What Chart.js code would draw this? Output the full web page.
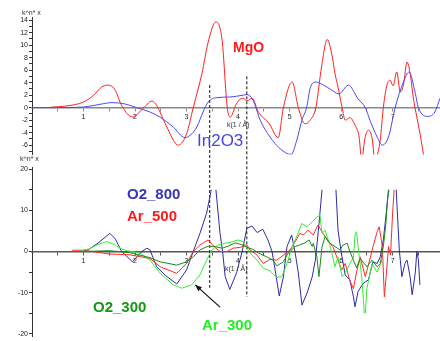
<!DOCTYPE html>
<html lang="en">
<head>
  <meta charset="UTF-8" />
  <title>EXAFS k-space</title>
  <script src="https://cdn.jsdelivr.net/npm/chart.js"></script>
  <style>
    body { margin: 0; background: #fff; }
    #wrap { position: relative; width: 440px; height: 341px; overflow: hidden; font-family: 'Liberation Sans', Arial, sans-serif; }
    canvas { position: absolute; left: 0; top: 0; }
    .lbl { position: absolute; line-height: 1; white-space: nowrap; }
    .small { font-size: 7px; color: #333; }
  </style>
</head>
<body>
  <div id="wrap">
    <canvas id="chartTop" width="440" height="341"></canvas>
    <canvas id="chartBot" width="440" height="341"></canvas>

    <div class="lbl small" style="left:22px;top:9px;">k^n* x</div>
    <div class="lbl small" style="left:20px;top:155px;">k^n* x</div>
    <div class="lbl small" style="left:227px;top:121px;">k(1 / Å)</div>
    <div class="lbl small" style="left:225px;top:265px;">k(1 / Å)</div>

    <div class="lbl" style="left:233px;top:40px;font-size:14px;font-weight:bold;color:#ff1a1a;">MgO</div>
    <div class="lbl" style="left:197px;top:132px;font-size:17px;color:#4646dc;">In2O3</div>
    <div class="lbl" style="left:127px;top:186px;font-size:15px;font-weight:bold;color:#3535b5;">O2_800</div>
    <div class="lbl" style="left:127px;top:208px;font-size:15px;font-weight:bold;color:#ff1a1a;">Ar_500</div>
    <div class="lbl" style="left:93px;top:299px;font-size:15px;font-weight:bold;color:#129912;">O2_300</div>
    <div class="lbl" style="left:202px;top:317px;font-size:15px;font-weight:bold;color:#22ee22;">Ar_300</div>
  </div>

  <script>
    // ---- data (k in 1/Å, value k^n*chi) ----
    const xTicks = [0.5, 1, 1.5, 2, 2.5, 3, 3.5, 4, 4.5, 5, 5.5, 6, 6.5, 7, 7.5];
    const yTopTicks = [-7, -6, -5, -4, -3, -2, -1, 0, 1, 2, 3, 4, 5, 6, 7, 8, 9, 10, 11, 12, 13, 14];
    const yBotTicks = [-20, -15, -10, -5, 0, 5, 10, 15, 20];

    // top panel
    const mgoK = [0.35, 0.7, 1.0, 1.2, 1.35, 1.47, 1.6, 1.75, 1.95, 2.15, 2.33, 2.43, 2.6, 2.84, 3.0, 3.13, 3.3, 3.42, 3.57, 3.69, 3.79, 3.85, 3.95, 4.02, 4.1, 4.17, 4.27, 4.4, 4.6, 4.78, 4.88, 5.05, 5.17, 5.3, 5.4, 5.51, 5.62, 5.73, 5.83, 5.88, 5.94, 6.02, 6.08, 6.17, 6.27, 6.35, 6.4, 6.46, 6.53, 6.6, 6.66, 6.72, 6.76, 6.82, 6.89, 6.95, 7.01, 7.08, 7.15, 7.21, 7.28, 7.34, 7.4, 7.47, 7.53, 7.62];
    const mgoV = [0.05, 0.3, 0.9, 2.0, 3.3, 3.6, 3.0, 0.2, -1.5, -0.2, 1.05, 0.2, -2.8, -6.0, -4.2, 0, 5.5, 10.5, 13.7, 10.8, 0, -1.5, 0.3, 1.2, 1.5, 1.1, 1.5, -0.8, -2.5, -4.8, 0, 4.1, 0, -2.6, -2.0, 0, 6.5, 10.9, 8.1, 5.5, 3.3, 0, -2.0, -1.6, -2.8, -4.7, -8.5, -5.0, -3.6, -4.8, -8.5, -7.0, -5.2, 0, 3.6, 4.4, 3.5, 5.7, 2.5, 3.6, 7.3, 5.5, 1.7, -1.5, -4.1, -8.5];

    const inoK = [0, 0.5, 1.0, 1.3, 1.55, 1.8, 2.03, 2.29, 2.48, 2.74, 2.97, 3.1, 3.2, 3.32, 3.42, 3.59, 3.84, 4.1, 4.17, 4.29, 4.43, 4.62, 4.82, 5.03, 5.14, 5.24, 5.33, 5.4, 5.5, 5.66, 5.8, 5.96, 6.14, 6.33, 6.47, 6.56, 6.7, 6.8, 6.92, 7.05, 7.21, 7.32, 7.44, 7.5, 7.69, 7.82, 7.92];
    const inoV = [0, 0, 0.1, 0.5, 0.8, 0.6, 0, -0.7, -1.5, -3.1, -4.8, -4.2, -3.1, -0.7, 0.9, 1.6, 1.7, 2.0, 2.1, 1.2, -2.0, -4.7, -6.6, -7.5, -5.2, -2.0, 0, 3.1, 4.1, 3.6, 2.9, 2.2, 3.6, 1.4, 0, -2.0, -4.7, -6.0, -4.7, 0, 4.1, 5.7, 2.3, 0, -1.4, -0.7, 1.5];

    // bottom panel
    const o800K = [0, 0.9, 1.1, 1.3, 1.51, 1.62, 1.74, 1.95, 2.13, 2.23, 2.29, 2.42, 2.58, 2.81, 3.0, 3.13, 3.26, 3.39, 3.48, 3.52, 3.57, 3.65, 3.7, 3.75, 3.84, 3.97, 4.08, 4.17, 4.27, 4.37, 4.48, 4.58, 4.66, 4.72, 4.8, 4.88, 4.95, 5.04, 5.11, 5.17, 5.24, 5.34, 5.44, 5.5, 5.56, 5.63, 5.7, 5.8, 5.9, 5.94, 6.0, 6.08, 6.17, 6.24, 6.27, 6.33, 6.43, 6.53, 6.62, 6.7, 6.76, 6.82, 6.89, 6.92, 7.0, 7.07, 7.09, 7.13, 7.18, 7.24, 7.28, 7.34, 7.38, 7.44, 7.47, 7.5, 7.53];
    const o800V = [0, 0, 0.5, 2.2, 4.4, 3.0, 0, -2.5, 0, 0.8, 0.4, -3.7, -5.7, -7.9, -4.5, 0, 4.4, 9.3, 15, 20, 15, 4.4, 0, -6.1, -9.2, -5.2, 0, 5.6, 6.2, 4.6, 5.4, 2.8, 0, -4.5, -10.8, -6.1, 1.2, 4.0, -0.4, -5.2, -13, -10.1, -6.1, -2.1, 5.2, 15, 20, 20, 15, 5.2, 0, -5.7, -6.9, -11, -13.4, -9.7, -7.7, -6.9, -2.5, -2.9, -1.3, 2.8, 10.9, 15, 20, 15, 10, 0.4, -6.1, -2.9, -2.1, -6.1, -10.5, -5.2, 0, -2.0, -8.1];

    const a500K = [0.78, 1.0, 1.5, 1.9, 2.29, 2.49, 2.81, 3.0, 3.13, 3.26, 3.42, 3.55, 3.65, 3.79, 3.9, 4.04, 4.17, 4.23, 4.37, 4.49, 4.62, 4.75, 4.88, 5.01, 5.11, 5.2, 5.27, 5.36, 5.46, 5.55, 5.65, 5.75, 5.84, 5.94, 6.01, 6.08, 6.17, 6.24, 6.3, 6.37, 6.47, 6.53, 6.62, 6.7, 6.74, 6.8, 6.84, 6.89, 6.92, 6.96, 7.0, 7.03, 7.06];
    const a500V = [0.3, 0.3, -0.6, -0.8, -1.7, -3.7, -5.3, -2.9, 0, 1.6, 2.8, 1.0, 0, 0, 0.8, 1.0, 1.6, 0.4, -0.9, -2.9, -1.9, -2.1, -0.9, 0.4, 2.4, 4.4, 4.0, 5.2, 4.0, 6.4, 4.4, 2.4, 1.2, -2.1, -4.5, -2.9, -7.1, -9.0, -5.0, -1.3, -6.1, -3.3, 1.2, 4.8, 6.0, 1.2, -11, -3.7, 1.2, -0.8, 9.3, 15, 20];

    const a300K = [0, 0.9, 1.1, 1.3, 1.45, 1.6, 1.71, 1.84, 2.1, 2.29, 2.49, 2.74, 2.91, 3.1, 3.26, 3.39, 3.49, 3.62, 3.75, 3.9, 4.0, 4.1, 4.23, 4.37, 4.49, 4.62, 4.75, 4.85, 4.95, 5.05, 5.15, 5.24, 5.34, 5.44, 5.53, 5.59, 5.63, 5.69, 5.79, 5.88, 5.94, 6.02, 6.08, 6.17, 6.24, 6.27, 6.3, 6.33, 6.4, 6.43, 6.46, 6.5, 6.6, 6.7, 6.8];
    const a300V = [0, 0, 0.6, 1.8, 2.4, 1.7, 0.8, 0.2, -0.4, -2.1, -5.3, -8.1, -8.9, -8.1, -5.7, -2.1, 0.4, 1.6, 2.0, 2.4, 2.8, 2.4, -0.4, -2.1, -4.1, -4.7, -6.3, -6.1, -2.9, 1.2, 4.0, 6.8, 6.0, 7.2, 8.4, 8.8, 4.4, 5.2, 1.2, -3.7, -1.3, -6.1, -5.3, -2.9, -1.5, 4.0, 4.8, 1.2, -6.1, -11, -17, -9, -3, -5, -2];

    const o300K = [0, 1.0, 1.5, 1.9, 2.29, 2.49, 2.81, 3.0, 3.13, 3.26, 3.42, 3.55, 3.69, 3.81, 3.94, 4.08, 4.17, 4.29, 4.43, 4.56, 4.68, 4.75, 4.88, 4.97, 5.11, 5.2, 5.3, 5.38, 5.44, 5.46, 5.53, 5.57, 5.63, 5.69, 5.79, 5.88, 5.98, 6.04, 6.12, 6.17, 6.24, 6.3, 6.37, 6.5, 6.6, 6.7, 6.76, 6.82, 6.87, 6.9, 6.94];
    const o300V = [0, 0, 0.2, -0.3, -1.5, -2.5, -3.3, -2.5, -1.3, 0.4, 1.3, 1.2, 0.8, 1.3, 2.1, 1.6, 1.0, 0.5, -0.6, -1.3, -2.1, -3.5, -2.5, -0.4, 1.2, 1.6, 2.1, 2.8, 1.2, 2.0, -1.3, -6.1, 1.2, 3.6, 2.0, 1.2, 0.4, 1.6, 2.0, 0, -2.1, -4.0, -1.7, -3.7, -2.1, -3.7, -2.9, 1.2, 6.8, 12.5, 16];

    // dashed marker lines (k position, extent in bottom-panel units)
    const markK = [3.45, 4.17];
    const markTop = [40.4, 42.5];
    const markBot = [-8.8, -11.0];
    // arrow pointing at Ar_300
    const arrowTail = [3.65, -13.5];
    const arrowHead = [3.17, -8.1];

    const K_MAX = 7.92;
    const Y1_MIN = -7.5, Y1_MAX = 14.5;
    const Y2_MIN = -20.5, Y2_MAX = 20.5, CLIP_V = 15;

    Chart.defaults.font.family = "'Liberation Sans', Arial, sans-serif";
    Chart.defaults.animation = false;

    const pts = (ks, vs) => ks.map((k, i) => ({ x: k, y: vs[i] }));

    function scales(yMin, yMax, yTicks, labelEvery, xColor) {
      return {
        x: {
          type: 'linear', min: 0, max: K_MAX, position: { y: 0 },
          afterFit: s => { s.height = 0; s.paddingLeft = 0; s.paddingRight = 0; },
          afterBuildTicks: s => { s.ticks = xTicks.map(v => ({ value: v })); },
          ticks: { autoSkip: false, maxRotation: 0, padding: 2, color: '#222', font: { size: 7 },
                   callback: v => Number.isInteger(v) ? String(v) : '' },
          grid: { drawOnChartArea: false, tickLength: 3, color: xColor },
          border: { color: xColor, width: 1.5 }
        },
        y: {
          type: 'linear', min: yMin, max: yMax, position: 'left',
          afterFit: s => { s.width = 32; s.paddingTop = 0; s.paddingBottom = 0; },
          afterBuildTicks: s => { s.ticks = yTicks.map(v => ({ value: v })); },
          ticks: { autoSkip: false, padding: 1, color: '#222', font: { size: 7 },
                   callback: v => (v % labelEvery === 0) ? String(v) : '' },
          grid: { drawOnChartArea: false, tickLength: 3, color: '#333' },
          border: { color: '#333', width: 1 }
        }
      };
    }

    const line = (label, data, color, extra) => Object.assign({
      label, data, borderColor: color, borderWidth: 1, pointRadius: 0, fill: false
    }, extra || {});

    // top chart
    new Chart(document.getElementById('chartTop'), {
      type: 'line',
      data: {
        datasets: [
          line('In2O3', pts(inoK, inoV), '#4a4af2', { cubicInterpolationMode: 'monotone' }),
          line('MgO', pts(mgoK, mgoV), '#ff2020', { cubicInterpolationMode: 'monotone' })
        ]
      },
      options: {
        responsive: false,
        devicePixelRatio: 1,
        layout: { padding: { top: 17, bottom: 341 - 154.5, left: 0, right: 0 } },
        plugins: { legend: { display: false }, tooltip: { enabled: false } },
        scales: scales(Y1_MIN, Y1_MAX, yTopTicks, 2, '#888')
      }
    });

    // bottom chart
    const PAD_TOP = 167, PAD_BOT = 5;
    const areaH = 341 - PAD_TOP - PAD_BOT;
    const clipPx = -(Y2_MAX - CLIP_V) * areaH / (Y2_MAX - Y2_MIN);
    const seriesClip = { left: 0, right: 0, top: clipPx, bottom: clipPx };

    const arrowPlugin = {
      id: 'arrow',
      afterDatasetsDraw(c) {
        const sx = c.scales.x, sy = c.scales.y, ctx = c.ctx;
        const x1 = sx.getPixelForValue(arrowTail[0]), y1 = sy.getPixelForValue(arrowTail[1]);
        const x2 = sx.getPixelForValue(arrowHead[0]), y2 = sy.getPixelForValue(arrowHead[1]);
        const a = Math.atan2(y2 - y1, x2 - x1);
        ctx.save();
        ctx.strokeStyle = '#111'; ctx.fillStyle = '#111'; ctx.lineWidth = 1.2;
        ctx.beginPath(); ctx.moveTo(x1, y1); ctx.lineTo(x2, y2); ctx.stroke();
        ctx.beginPath();
        ctx.moveTo(x2, y2);
        ctx.lineTo(x2 - 7 * Math.cos(a - 0.4), y2 - 7 * Math.sin(a - 0.4));
        ctx.lineTo(x2 - 7 * Math.cos(a + 0.4), y2 - 7 * Math.sin(a + 0.4));
        ctx.closePath(); ctx.fill();
        ctx.restore();
      }
    };

    const marks = markK.map((k, i) => line('mark' + i,
      [{ x: k, y: markTop[i] }, { x: k, y: markBot[i] }], '#111',
      { borderDash: [3, 2], clip: false }));

    new Chart(document.getElementById('chartBot'), {
      type: 'line',
      data: {
        datasets: [
          line('O2_300', pts(o300K, o300V), '#1a8c1a', { clip: seriesClip }),
          line('Ar_300', pts(a300K, a300V), '#33ee33', { clip: seriesClip }),
          line('Ar_500', pts(a500K, a500V), '#ff2a2a', { clip: seriesClip }),
          line('O2_800', pts(o800K, o800V), '#2c2ca8', { clip: seriesClip }),
          ...marks
        ]
      },
      options: {
        responsive: false,
        devicePixelRatio: 1,
        layout: { padding: { top: PAD_TOP, bottom: PAD_BOT, left: 0, right: 0 } },
        plugins: { legend: { display: false }, tooltip: { enabled: false } },
        scales: scales(Y2_MIN, Y2_MAX, yBotTicks, 10, '#555')
      },
      plugins: [arrowPlugin]
    });
  </script>
</body>
</html>
